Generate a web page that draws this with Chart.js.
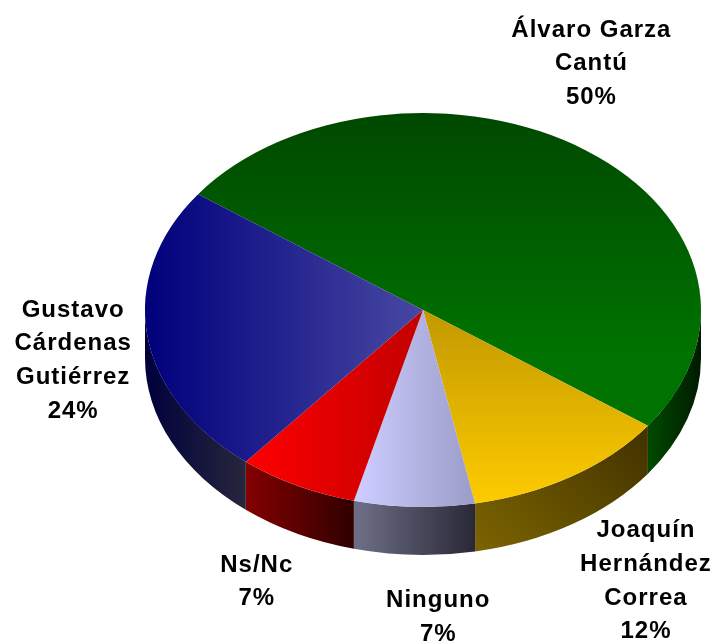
<!DOCTYPE html>
<html>
<head>
<meta charset="utf-8">
<script src="https://cdn.jsdelivr.net/npm/chart.js@4"></script>
<style>
html,body{margin:0;padding:0;background:#fff;}
canvas{display:block;}
</style>
</head>
<body>
<canvas id="c" width="722" height="644"></canvas>
<script>
// ---- data ----
const categories = [
  ['Álvaro Garza', 'Cantú'],
  ['Joaquín', 'Hernández', 'Correa'],
  ['Ninguno'],
  ['Ns/Nc'],
  ['Gustavo', 'Cárdenas', 'Gutiérrez']
];
const values = [50, 12, 7, 7, 24];

// ---- styling (kept apart from data) ----
const squash = 0.7086;   // vertical flattening of the pie
const depth = 48;        // thickness of the 3D wall in px
const labelOffsets = [[5, -114], [74, 13], [24, 52], [-40, 38], [-74, -66]];
const lineHeight = 33.7;
const topColors = [
  ['#004800', '#007200'],
  ['#c29800', '#ffcc00'],
  ['#ccccff', '#9a9ac6'],
  ['#ff0000', '#c20000'],
  ['#00007c', '#4848a2']
];
const wallColors = [
  ['#004c00', '#001a00'],
  ['#3a2c00', '#7c6400'],
  ['#6c6c84', '#262634'],
  ['#840000', '#2c0000'],
  ['#00003c', '#26263e']
];

function geom(chart) {
  const a = chart.chartArea;
  const cx = (a.left + a.right) / 2, cy = (a.top + a.bottom) / 2;
  const r = Math.min(a.right - a.left, a.bottom - a.top) / 2;
  return {cx, cy, r};
}

function topFill(context) {
  const chart = context.chart;
  const i = context.dataIndex;
  if (!chart.chartArea) return topColors[i][1];
  const {cx, cy, r} = geom(chart);
  const ctx = chart.ctx;
  let g;
  // gradients are in the unsquashed (circle) space
  if (i === 0) g = ctx.createLinearGradient(0, cy - r, 0, cy + 0.2 * r);
  else if (i === 1) g = ctx.createLinearGradient(0, cy, 0, cy + r);
  else if (i === 2) g = ctx.createLinearGradient(cx - 0.23 * r, 0, cx + 0.2 * r, 0);
  else if (i === 3) g = ctx.createLinearGradient(cx - 0.64 * r, 0, cx, 0);
  else g = ctx.createLinearGradient(cx - r, 0, cx, 0);
  g.addColorStop(0, topColors[i][0]);
  g.addColorStop(1, topColors[i][1]);
  return g;
}

function wallFill(ctx, i, cx, cy, rx, ry) {
  let g;
  if (i === 0) g = ctx.createLinearGradient(cx + 0.8 * rx, 0, cx + rx, 0);
  else if (i === 1) g = ctx.createLinearGradient(cx + 0.8 * rx, cy + 0.4 * ry, cx + 0.2 * rx, cy + ry + depth);
  else if (i === 2) g = ctx.createLinearGradient(cx - 0.23 * rx, 0, cx + 0.2 * rx, 0);
  else if (i === 3) g = ctx.createLinearGradient(cx - 0.64 * rx, 0, cx - 0.23 * rx, 0);
  else g = ctx.createLinearGradient(cx - rx, 0, cx - 0.64 * rx, 0);
  g.addColorStop(0, wallColors[i][0]);
  g.addColorStop(1, wallColors[i][1]);
  return g;
}

const pie3d = {
  id: 'pie3d',
  beforeDatasetsDraw(chart) {
    const ctx = chart.ctx;
    const meta = chart.getDatasetMeta(0);
    const arc0 = meta.data[0];
    const cx = arc0.x, cy = arc0.y, rx = arc0.outerRadius, ry = rx * squash;
    // side walls (front half only: angles 0..PI)
    meta.data.forEach((arc, i) => {
      const a1 = arc.startAngle, a2 = arc.endAngle;
      for (let k = -2; k <= 2; k++) {
        const s = Math.max(a1 + k * 2 * Math.PI, 0);
        const e = Math.min(a2 + k * 2 * Math.PI, Math.PI);
        if (e <= s) continue;
        ctx.save();
        ctx.beginPath();
        ctx.ellipse(cx, cy, rx, ry, 0, s, e, false);
        ctx.ellipse(cx, cy + depth, rx, ry, 0, e, s, true);
        ctx.closePath();
        ctx.fillStyle = wallFill(ctx, i, cx, cy, rx, ry);
        ctx.fill();
        ctx.restore();
      }
    });
    ctx.save();
    ctx.translate(cx, cy);
    ctx.scale(1, squash);
    ctx.translate(-cx, -cy);
  },
  afterDatasetsDraw(chart) {
    const ctx = chart.ctx;
    ctx.restore();
    const meta = chart.getDatasetMeta(0);
    const total = values.reduce((a, b) => a + b, 0);
    ctx.save();
    ctx.fillStyle = '#000';
    ctx.font = 'bold 24px "Liberation Sans", Arial, sans-serif';
    if ('letterSpacing' in ctx) ctx.letterSpacing = '1px';
    ctx.textAlign = 'center';
    ctx.textBaseline = 'alphabetic';
    meta.data.forEach((arc, i) => {
      const mid = (arc.startAngle + arc.endAngle) / 2;
      const rx = arc.outerRadius, ry = rx * squash;
      const sn = Math.sin(mid);
      const bx = arc.x + rx * Math.cos(mid);
      const by = arc.y + ry * sn + (sn > 0 ? depth : 0);
      const x = bx + labelOffsets[i][0];
      let y = by + labelOffsets[i][1];
      const lines = categories[i].concat([Math.round(values[i] / total * 100) + '%']);
      lines.forEach((t, j) => ctx.fillText(t, x, y + j * lineHeight));
    });
    ctx.restore();
  }
};

new Chart(document.getElementById('c'), {
  type: 'pie',
  data: {
    labels: categories,
    datasets: [{
      data: values,
      backgroundColor: topFill,
      borderWidth: 0,
      offset: 0,
      hoverOffset: 0,
      clip: false
    }]
  },
  options: {
    responsive: false,
    devicePixelRatio: 1,
    animation: false,
    events: [],
    rotation: 306,
    layout: {padding: {left: 145, right: 21, top: 32, bottom: 56}},
    plugins: {legend: {display: false}, tooltip: {enabled: false}}
  },
  plugins: [pie3d]
});
</script>
</body>
</html>
